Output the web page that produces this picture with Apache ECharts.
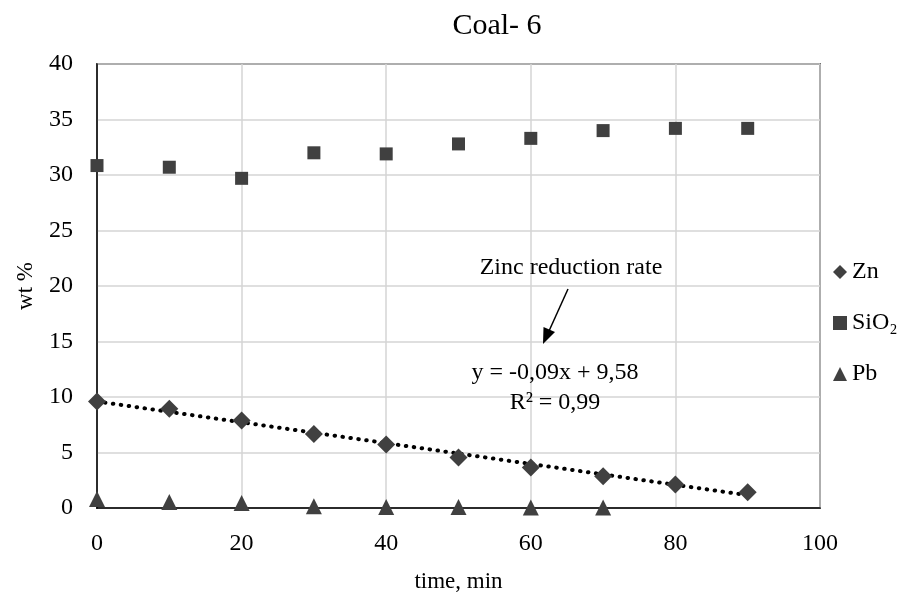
<!DOCTYPE html>
<html>
<head>
<meta charset="utf-8">
<script src="https://cdn.jsdelivr.net/npm/echarts@6/dist/echarts.min.js"></script>
<style>
  html, body { margin: 0; padding: 0; background: #fff; }
  #main { width: 908px; height: 600px; }
</style>
</head>
<body>
<div id="main"></div>
<script>
// data
var times = [0, 10, 20, 30, 40, 50, 60, 70, 80, 90];
var zn = [9.6, 8.94, 7.88, 6.66, 5.73, 4.55, 3.64, 2.87, 2.12, 1.42];
var sio2 = [30.85, 30.7, 29.7, 32.0, 31.9, 32.8, 33.3, 34.0, 34.2, 34.2];
var pbTimes = [0, 10, 20, 30, 40, 50, 60, 70];
var pb = [0.8, 0.55, 0.45, 0.15, 0.1, 0.1, 0.05, 0.05];
var trendX = [0, 90];
var trendY = [9.6, 1.15];
var xTicks = [0, 20, 40, 60, 80, 100];
var yTicks = [0, 5, 10, 15, 20, 25, 30, 35, 40];

function pairs(xs, ys) {
  return xs.map(function (x, i) { return [x, ys[i]]; });
}

var FONT = '"Liberation Serif", "DejaVu Serif", serif';
var MARK = '#404040';

var myChart = echarts.init(document.getElementById('main'));

var option = {
  backgroundColor: '#fff',
  textStyle: { fontFamily: FONT, color: '#000' },
  title: {
    text: 'Coal- 6',
    left: 492,
    top: 6,
    textAlign: 'center',
    textStyle: { fontFamily: FONT, fontSize: 30, fontWeight: 'normal', color: '#000' }
  },
  grid: {
    left: 97, right: 88, top: 64, bottom: 92,
    show: true, borderColor: '#000', borderWidth: 1.5
  },
  legend: {
    orient: 'vertical',
    left: 828,
    top: 255,
    itemGap: 27,
    itemWidth: 14,
    itemHeight: 14,
    textStyle: { fontFamily: FONT, fontSize: 24, color: '#000' },
    data: [
      { name: 'Zn', icon: 'diamond' },
      { name: 'SiO₂', icon: 'rect' },
      { name: 'Pb', icon: 'triangle' }
    ]
  },
  xAxis: {
    type: 'value',
    min: xTicks[0],
    max: xTicks[xTicks.length - 1],
    interval: 20,
    name: 'time, min',
    nameLocation: 'middle',
    nameGap: 62,
    nameTextStyle: { fontFamily: FONT, fontSize: 23, color: '#000' },
    axisLine: { lineStyle: { color: '#000', width: 1.5 } },
    axisTick: { show: false },
    axisLabel: { fontFamily: FONT, fontSize: 24, color: '#000', margin: 24 },
    splitLine: { show: true, lineStyle: { color: '#d4d4d4', width: 1.5 } }
  },
  yAxis: {
    type: 'value',
    min: yTicks[0],
    max: yTicks[yTicks.length - 1],
    interval: 5,
    name: 'wt %',
    nameLocation: 'middle',
    nameGap: 60,
    nameTextStyle: { fontFamily: FONT, fontSize: 23, color: '#000' },
    axisLine: { show: true, lineStyle: { color: '#000', width: 1.5 } },
    axisTick: { show: false },
    axisLabel: { fontFamily: FONT, fontSize: 24, color: '#000', margin: 24 },
    splitLine: { show: true, lineStyle: { color: '#d4d4d4', width: 1.5 } }
  },
  series: [
    {
      name: 'Zn trend',
      type: 'line',
      data: pairs(trendX, trendY),
      symbol: 'none',
      silent: true,
      z: 3,
      lineStyle: { color: '#000', width: 4, type: [0.5, 7.5], cap: 'round' }
    },
    {
      name: 'Zn',
      type: 'scatter',
      data: pairs(times, zn),
      symbol: 'diamond',
      symbolSize: 18,
      z: 4,
      itemStyle: { color: MARK, opacity: 1 }
    },
    {
      name: 'SiO₂',
      type: 'scatter',
      data: pairs(times, sio2),
      symbol: 'rect',
      symbolSize: 13,
      itemStyle: { color: MARK, opacity: 1 }
    },
    {
      name: 'Pb',
      type: 'scatter',
      data: pairs(pbTimes, pb),
      symbol: 'triangle',
      symbolSize: 16,
      itemStyle: { color: MARK, opacity: 1 }
    }
  ],
  graphic: [
    {
      type: 'text', x: 571, y: 268, z: 10,
      style: { text: 'Zinc reduction rate', font: '24px ' + FONT, fill: '#000', align: 'center', verticalAlign: 'middle' }
    },
    {
      type: 'line', z: 10,
      shape: { x1: 568, y1: 289, x2: 549, y2: 331 },
      style: { stroke: '#000', lineWidth: 1.5 }
    },
    {
      type: 'polygon', z: 10,
      shape: { points: [[543, 344], [543.5, 327], [555, 332]] },
      style: { fill: '#000' }
    },
    {
      type: 'text', x: 555, y: 373, z: 10,
      style: { text: 'y = -0,09x + 9,58', font: '24px ' + FONT, fill: '#000', align: 'center', verticalAlign: 'middle' }
    },
    {
      type: 'text', x: 555, y: 403, z: 10,
      style: { text: 'R² = 0,99', font: '24px ' + FONT, fill: '#000', align: 'center', verticalAlign: 'middle' }
    }
  ]
};

myChart.setOption(option);
</script>
</body>
</html>
